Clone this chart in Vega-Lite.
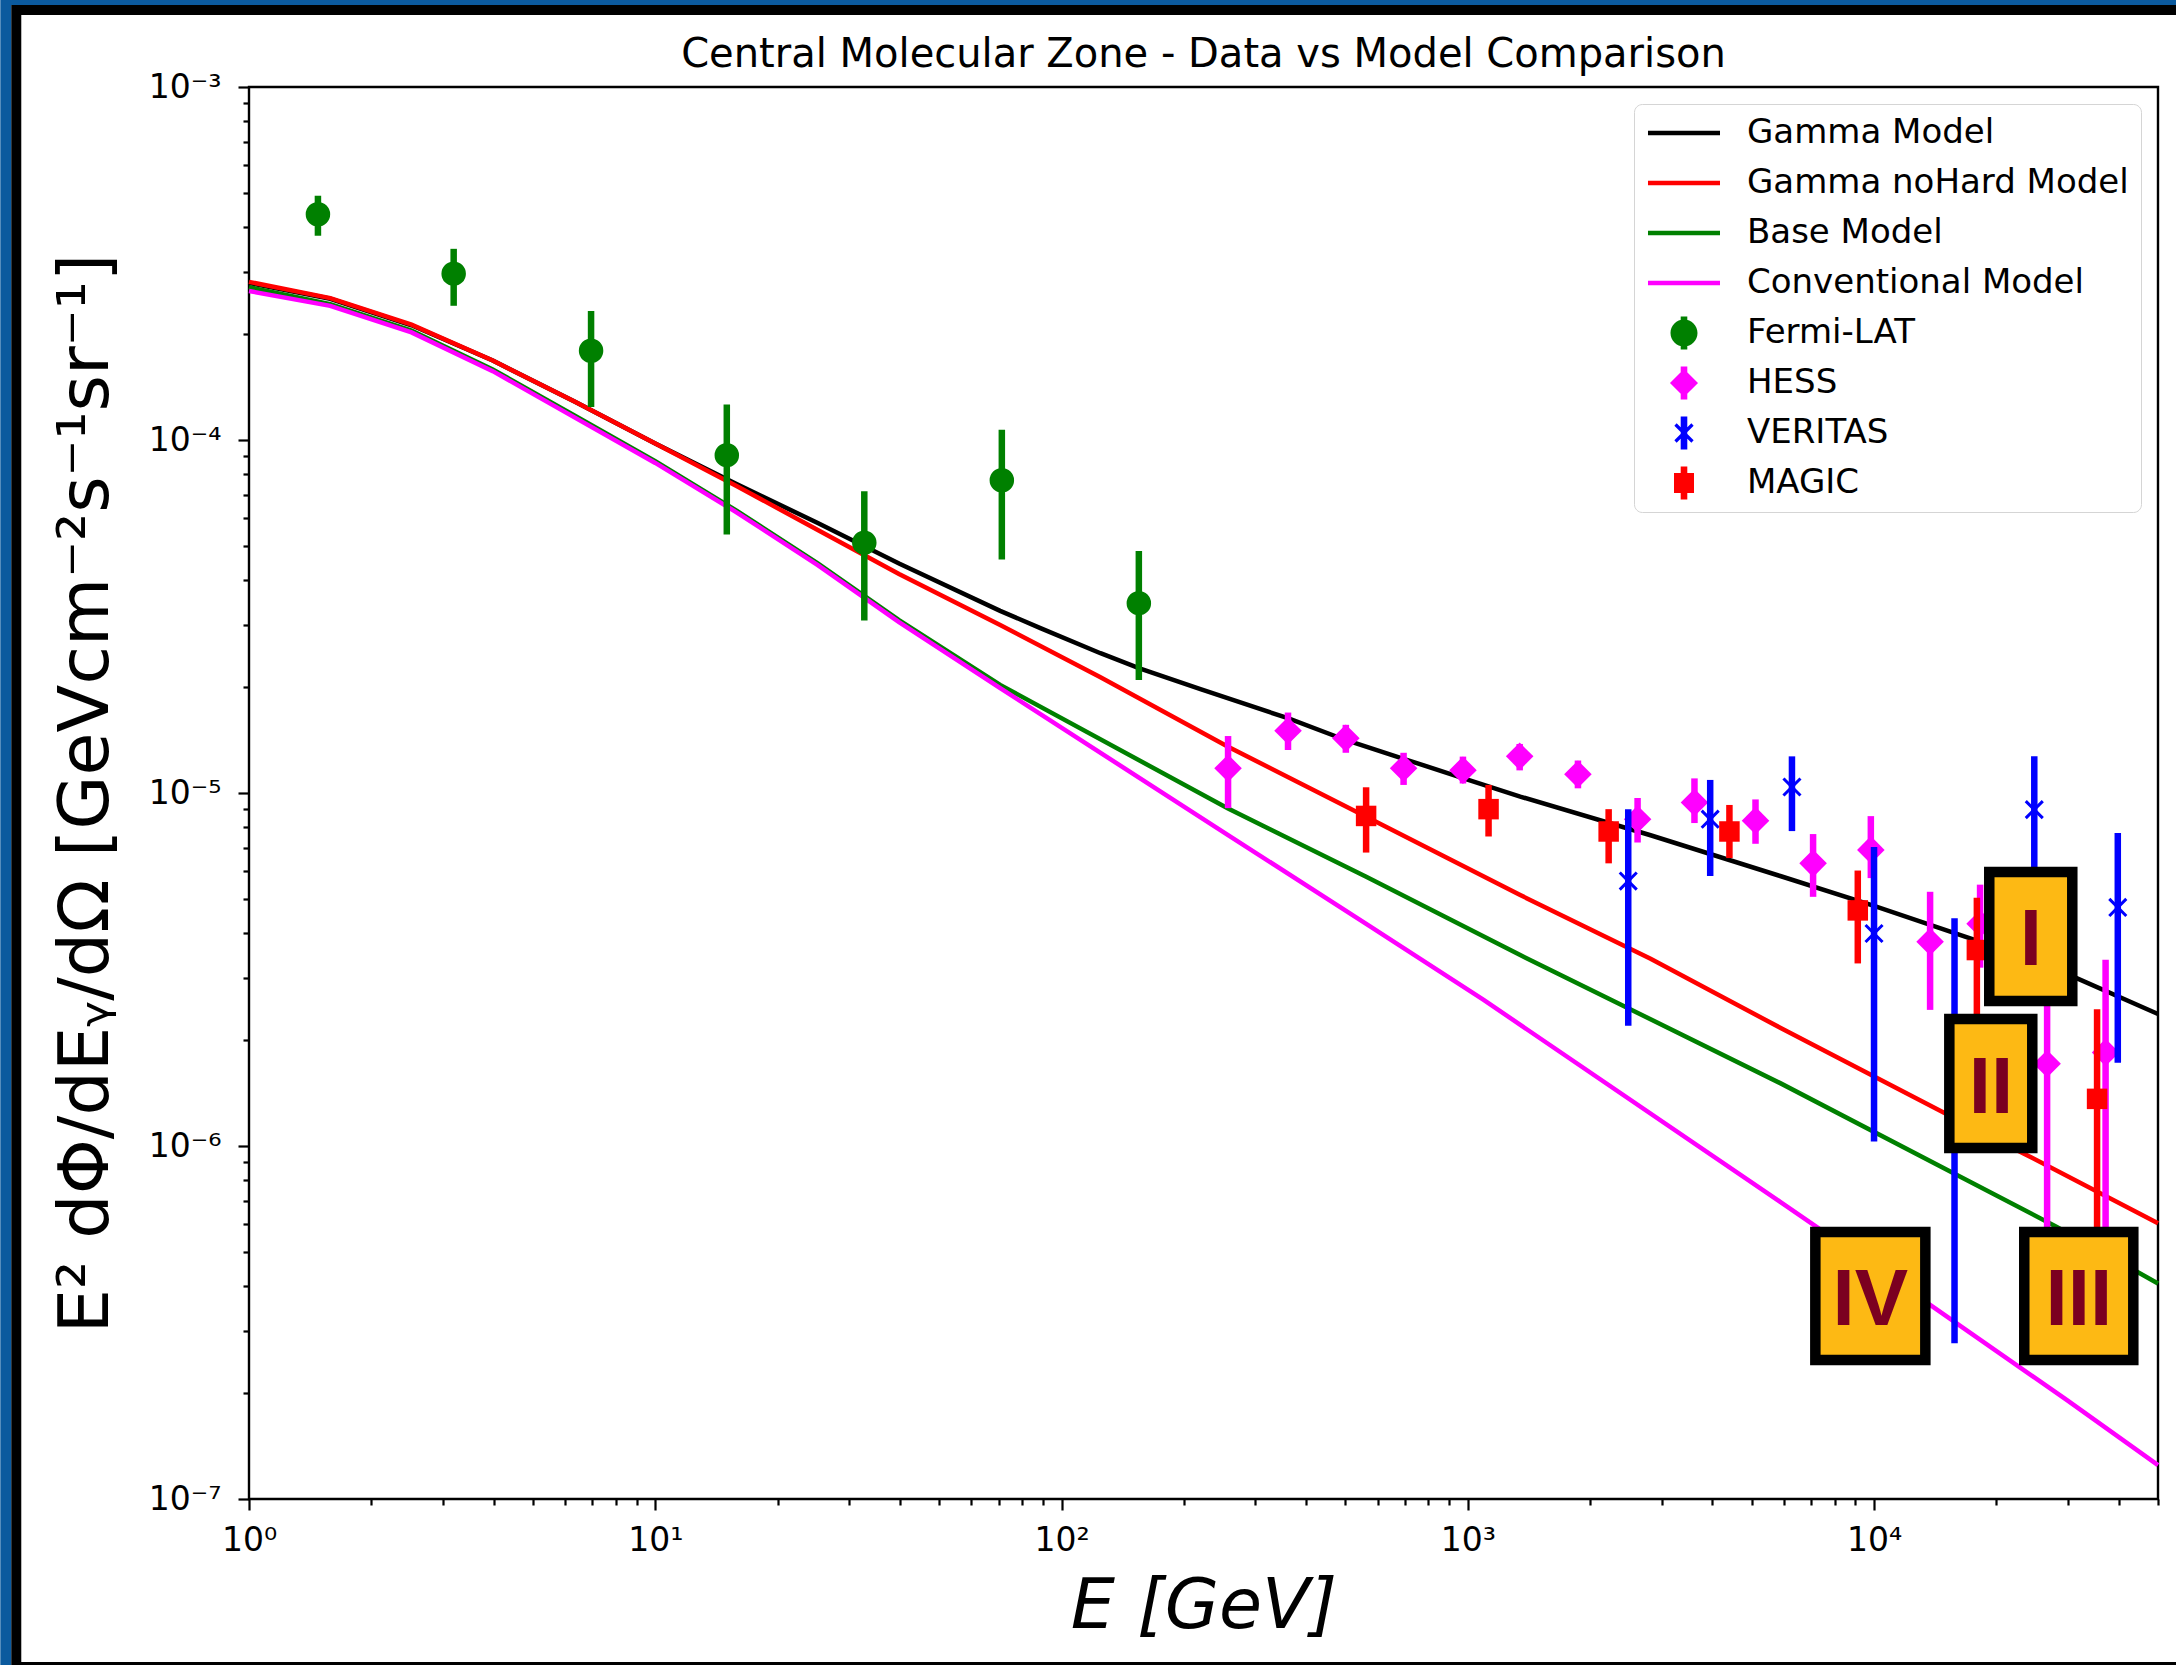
{
  "$schema": "https://vega.github.io/schema/vega-lite/v6.json",
  "width": 1909,
  "height": 1412,
  "autosize": {"type": "none"},
  "padding": {"left": 249, "top": 87, "right": 18, "bottom": 166},
  "background": "white",
  "title": {
    "text": "Central Molecular Zone - Data vs Model Comparison",
    "font": "DejaVu Sans",
    "fontSize": 40,
    "fontWeight": "normal",
    "color": "black",
    "anchor": "middle",
    "frame": "group",
    "baseline": "alphabetic",
    "offset": 21,
    "dy": 134
  },
  "config": {
    "view": {"stroke": "black", "strokeWidth": 2.4, "fill": "white"},
    "axis": {
      "domain": false,
      "grid": false,
      "labelFont": "DejaVu Sans",
      "labelFontSize": 33,
      "labelColor": "black",
      "tickColor": "black",
      "tickWidth": 2.2,
      "titleFont": "DejaVu Sans",
      "titleFontSize": 70,
      "titleColor": "black",
      "titleFontWeight": "normal"
    }
  },
  "datasets": {
    "models": [
      {"model": "Gamma Model", "E": 1, "F": 2.786e-4},
      {"model": "Gamma Model", "E": 1.585, "F": 2.512e-4},
      {"model": "Gamma Model", "E": 2.512, "F": 2.113e-4},
      {"model": "Gamma Model", "E": 3.981, "F": 1.679e-4},
      {"model": "Gamma Model", "E": 6.31, "F": 1.288e-4},
      {"model": "Gamma Model", "E": 10, "F": 9.77e-5},
      {"model": "Gamma Model", "E": 15.85, "F": 7.5e-5},
      {"model": "Gamma Model", "E": 25.12, "F": 5.82e-5},
      {"model": "Gamma Model", "E": 39.81, "F": 4.47e-5},
      {"model": "Gamma Model", "E": 70.63, "F": 3.281e-5},
      {"model": "Gamma Model", "E": 88.72, "F": 2.931e-5},
      {"model": "Gamma Model", "E": 124.7, "F": 2.489e-5},
      {"model": "Gamma Model", "E": 155.6, "F": 2.254e-5},
      {"model": "Gamma Model", "E": 219.8, "F": 1.968e-5},
      {"model": "Gamma Model", "E": 360.6, "F": 1.629e-5},
      {"model": "Gamma Model", "E": 500, "F": 1.413e-5},
      {"model": "Gamma Model", "E": 695, "F": 1.25e-5},
      {"model": "Gamma Model", "E": 968.3, "F": 1.104e-5},
      {"model": "Gamma Model", "E": 1346, "F": 9.77e-6},
      {"model": "Gamma Model", "E": 2818, "F": 7.59e-6},
      {"model": "Gamma Model", "E": 5875, "F": 5.82e-6},
      {"model": "Gamma Model", "E": 10000, "F": 4.79e-6},
      {"model": "Gamma Model", "E": 17910, "F": 3.82e-6},
      {"model": "Gamma Model", "E": 31620, "F": 2.985e-6},
      {"model": "Gamma Model", "E": 50000, "F": 2.366e-6},

      {"model": "Gamma noHard Model", "E": 1, "F": 2.805e-4},
      {"model": "Gamma noHard Model", "E": 1.585, "F": 2.523e-4},
      {"model": "Gamma noHard Model", "E": 2.512, "F": 2.123e-4},
      {"model": "Gamma noHard Model", "E": 3.981, "F": 1.679e-4},
      {"model": "Gamma noHard Model", "E": 6.31, "F": 1.288e-4},
      {"model": "Gamma noHard Model", "E": 10, "F": 9.77e-5},
      {"model": "Gamma noHard Model", "E": 15.85, "F": 7.41e-5},
      {"model": "Gamma noHard Model", "E": 25.12, "F": 5.56e-5},
      {"model": "Gamma noHard Model", "E": 39.81, "F": 4.17e-5},
      {"model": "Gamma noHard Model", "E": 70.63, "F": 2.992e-5},
      {"model": "Gamma noHard Model", "E": 124.7, "F": 2.128e-5},
      {"model": "Gamma noHard Model", "E": 257, "F": 1.352e-5},
      {"model": "Gamma noHard Model", "E": 562.3, "F": 8.57e-6},
      {"model": "Gamma noHard Model", "E": 1346, "F": 5.14e-6},
      {"model": "Gamma noHard Model", "E": 2818, "F": 3.39e-6},
      {"model": "Gamma noHard Model", "E": 5875, "F": 2.163e-6},
      {"model": "Gamma noHard Model", "E": 14830, "F": 1.245e-6},
      {"model": "Gamma noHard Model", "E": 23330, "F": 9.53e-7},
      {"model": "Gamma noHard Model", "E": 50000, "F": 6.04e-7},

      {"model": "Base Model", "E": 1, "F": 2.71e-4},
      {"model": "Base Model", "E": 1.585, "F": 2.427e-4},
      {"model": "Base Model", "E": 2.512, "F": 2.042e-4},
      {"model": "Base Model", "E": 3.981, "F": 1.585e-4},
      {"model": "Base Model", "E": 6.31, "F": 1.175e-4},
      {"model": "Base Model", "E": 10, "F": 8.71e-5},
      {"model": "Base Model", "E": 15.85, "F": 6.31e-5},
      {"model": "Base Model", "E": 25.12, "F": 4.47e-5},
      {"model": "Base Model", "E": 39.81, "F": 3.09e-5},
      {"model": "Base Model", "E": 70.63, "F": 2.023e-5},
      {"model": "Base Model", "E": 257, "F": 9.04e-6},
      {"model": "Base Model", "E": 562.3, "F": 5.79e-6},
      {"model": "Base Model", "E": 1346, "F": 3.475e-6},
      {"model": "Base Model", "E": 5875, "F": 1.507e-6},
      {"model": "Base Model", "E": 16000, "F": 8.28e-7},
      {"model": "Base Model", "E": 28180, "F": 5.9e-7},
      {"model": "Base Model", "E": 50000, "F": 4.08e-7},

      {"model": "Conventional Model", "E": 1, "F": 2.642e-4},
      {"model": "Conventional Model", "E": 1.585, "F": 2.399e-4},
      {"model": "Conventional Model", "E": 2.512, "F": 2.018e-4},
      {"model": "Conventional Model", "E": 3.981, "F": 1.567e-4},
      {"model": "Conventional Model", "E": 6.31, "F": 1.161e-4},
      {"model": "Conventional Model", "E": 10, "F": 8.61e-5},
      {"model": "Conventional Model", "E": 15.85, "F": 6.24e-5},
      {"model": "Conventional Model", "E": 25.12, "F": 4.42e-5},
      {"model": "Conventional Model", "E": 39.81, "F": 3.05e-5},
      {"model": "Conventional Model", "E": 70.63, "F": 1.982e-5},
      {"model": "Conventional Model", "E": 257, "F": 7.6e-6},
      {"model": "Conventional Model", "E": 562.3, "F": 4.26e-6},
      {"model": "Conventional Model", "E": 1094, "F": 2.594e-6},
      {"model": "Conventional Model", "E": 5875, "F": 6.95e-7},
      {"model": "Conventional Model", "E": 13770, "F": 3.54e-7},
      {"model": "Conventional Model", "E": 29850, "F": 1.905e-7},
      {"model": "Conventional Model", "E": 50000, "F": 1.247e-7}
    ],
    "points": [
      {"inst": "Fermi-LAT", "E": 1.478, "F": 4.36e-4, "lo": 3.79e-4, "hi": 4.92e-4},
      {"inst": "Fermi-LAT", "E": 3.19, "F": 2.96e-4, "lo": 2.4e-4, "hi": 3.48e-4},
      {"inst": "Fermi-LAT", "E": 6.95, "F": 1.79e-4, "lo": 1.24e-4, "hi": 2.32e-4},
      {"inst": "Fermi-LAT", "E": 15.0, "F": 9.06e-5, "lo": 5.4e-5, "hi": 1.26e-4},
      {"inst": "Fermi-LAT", "E": 32.7, "F": 5.12e-5, "lo": 3.08e-5, "hi": 7.16e-5},
      {"inst": "Fermi-LAT", "E": 71.3, "F": 7.69e-5, "lo": 4.59e-5, "hi": 1.07e-4},
      {"inst": "Fermi-LAT", "E": 155, "F": 3.45e-5, "lo": 2.09e-5, "hi": 4.85e-5},

      {"inst": "HESS", "E": 257, "F": 1.175e-5, "lo": 9.06e-6, "hi": 1.45e-5},
      {"inst": "HESS", "E": 361, "F": 1.5e-5, "lo": 1.324e-5, "hi": 1.69e-5},
      {"inst": "HESS", "E": 501, "F": 1.43e-5, "lo": 1.3e-5, "hi": 1.56e-5},
      {"inst": "HESS", "E": 695, "F": 1.175e-5, "lo": 1.054e-5, "hi": 1.3e-5},
      {"inst": "HESS", "E": 973, "F": 1.16e-5, "lo": 1.064e-5, "hi": 1.268e-5},
      {"inst": "HESS", "E": 1342, "F": 1.27e-5, "lo": 1.159e-5, "hi": 1.377e-5},
      {"inst": "HESS", "E": 1867, "F": 1.13e-5, "lo": 1.031e-5, "hi": 1.236e-5},
      {"inst": "HESS", "E": 2618, "F": 8.43e-6, "lo": 7.24e-6, "hi": 9.68e-6},
      {"inst": "HESS", "E": 3614, "F": 9.4e-6, "lo": 8.22e-6, "hi": 1.1e-5},
      {"inst": "HESS", "E": 5108, "F": 8.35e-6, "lo": 7.18e-6, "hi": 9.59e-6},
      {"inst": "HESS", "E": 7079, "F": 6.32e-6, "lo": 5.08e-6, "hi": 7.65e-6},
      {"inst": "HESS", "E": 9820, "F": 6.9e-6, "lo": 5.74e-6, "hi": 8.6e-6},
      {"inst": "HESS", "E": 13740, "F": 3.79e-6, "lo": 2.43e-6, "hi": 5.25e-6},
      {"inst": "HESS", "E": 18240, "F": 4.26e-6, "lo": 3.2e-6, "hi": 5.5e-6},
      {"inst": "HESS", "E": 26670, "F": 1.71e-6, "lo": 4.5e-7, "hi": 3.3e-6},
      {"inst": "HESS", "E": 37150, "F": 1.84e-6, "lo": 4.0e-7, "hi": 3.37e-6},

      {"inst": "VERITAS", "E": 2483, "F": 5.63e-6, "lo": 2.19e-6, "hi": 9.0e-6},
      {"inst": "VERITAS", "E": 3951, "F": 8.43e-6, "lo": 5.82e-6, "hi": 1.089e-5},
      {"inst": "VERITAS", "E": 6280, "F": 1.04e-5, "lo": 7.8e-6, "hi": 1.27e-5},
      {"inst": "VERITAS", "E": 10000, "F": 4.0e-6, "lo": 1.03e-6, "hi": 7.03e-6},
      {"inst": "VERITAS", "E": 15780, "F": 1.1e-6, "lo": 2.76e-7, "hi": 4.42e-6},
      {"inst": "VERITAS", "E": 24800, "F": 8.97e-6, "lo": 3.2e-6, "hi": 1.27e-5},
      {"inst": "VERITAS", "E": 39810, "F": 4.74e-6, "lo": 1.72e-6, "hi": 7.7e-6},

      {"inst": "MAGIC", "E": 562, "F": 8.61e-6, "lo": 6.78e-6, "hi": 1.038e-5},
      {"inst": "MAGIC", "E": 1125, "F": 9.0e-6, "lo": 7.53e-6, "hi": 1.054e-5},
      {"inst": "MAGIC", "E": 2222, "F": 7.78e-6, "lo": 6.32e-6, "hi": 9.0e-6},
      {"inst": "MAGIC", "E": 4406, "F": 7.78e-6, "lo": 6.54e-6, "hi": 9.25e-6},
      {"inst": "MAGIC", "E": 9120, "F": 4.65e-6, "lo": 3.29e-6, "hi": 6.03e-6},
      {"inst": "MAGIC", "E": 17910, "F": 3.59e-6, "lo": 2.0e-6, "hi": 5.05e-6},
      {"inst": "MAGIC", "E": 35400, "F": 1.36e-6, "lo": 4.5e-7, "hi": 2.44e-6}
    ],
    "boxes": [
      {"label": "I", "x1": 19215, "x2": 30760, "y1": 5.973e-6, "y2": 2.575e-6, "xc": 24320, "yc": 3.922e-6},
      {"label": "II", "x1": 15322, "x2": 24520, "y1": 2.29e-6, "y2": 9.87e-7, "xc": 19390, "yc": 1.503e-6},
      {"label": "IV", "x1": 7170, "x2": 13375, "y1": 5.706e-7, "y2": 2.476e-7, "xc": 9792, "yc": 3.759e-7},
      {"label": "III", "x1": 23430, "x2": 43470, "y1": 5.706e-7, "y2": 2.476e-7, "xc": 31920, "yc": 3.759e-7}
    ]
  },
  "layer": [
    {
      "data": {"values": [{}]},
      "mark": {"type": "rect", "filled": false, "stroke": "#0b5a9e", "strokeWidth": 11, "clip": false},
      "encoding": {
        "x": {"datum": 0.252, "type": "quantitative", "scale": {"type": "log", "domain": [1, 50000], "nice": false},
          "axis": {
            "title": "E [GeV]",
            "titleFontStyle": "italic",
            "titlePadding": 15,
            "values": [1,2,3,4,5,6,7,8,9,10,20,30,40,50,60,70,80,90,100,200,300,400,500,600,700,800,900,1000,2000,3000,4000,5000,6000,7000,8000,9000,10000,20000,30000,40000,50000],
            "labelExpr": "abs(log(datum.value)/LN10 - round(log(datum.value)/LN10)) < 0.001 ? '10' + ['⁰','¹','²','³','⁴','⁵'][round(log(datum.value)/LN10)] : ''",
            "labelOverlap": false,
            "labelFlush": false,
            "labelPadding": 14,
            "tickSize": {"condition": {"test": "abs(log(datum.value)/LN10 - round(log(datum.value)/LN10)) > 0.001", "value": 6}, "value": 11}
          }
        },
        "x2": {"datum": 63540},
        "y": {"datum": 1.77e-3, "type": "quantitative", "scale": {"type": "log", "domain": [1e-7, 1e-3], "nice": false},
          "axis": {
            "title": "E² dΦ/dEᵧ/dΩ [GeVcm⁻²s⁻¹sr⁻¹]",
            "titlePadding": 26,
            "values": [1e-7,2e-7,3e-7,4e-7,5e-7,6e-7,7e-7,8e-7,9e-7,1e-6,2e-6,3e-6,4e-6,5e-6,6e-6,7e-6,8e-6,9e-6,1e-5,2e-5,3e-5,4e-5,5e-5,6e-5,7e-5,8e-5,9e-5,1e-4,2e-4,3e-4,4e-4,5e-4,6e-4,7e-4,8e-4,9e-4,1e-3],
            "labelExpr": "abs(log(datum.value)/LN10 - round(log(datum.value)/LN10)) < 0.001 ? '10⁻' + ['⁰','¹','²','³','⁴','⁵','⁶','⁷','⁸'][-round(log(datum.value)/LN10)] : ''",
            "labelOverlap": false,
            "labelFlush": false,
            "labelPadding": 17,
            "tickSize": {"condition": {"test": "abs(log(datum.value)/LN10 - round(log(datum.value)/LN10)) > 0.001", "value": 6}, "value": 11}
          }
        },
        "y2": {"datum": 2.695e-8}
      }
    },
    {
      "data": {"values": [{}]},
      "mark": {"type": "rect", "filled": false, "stroke": "black", "strokeWidth": 10, "clip": false},
      "encoding": {
        "x": {"datum": 0.2674, "type": "quantitative"},
        "x2": {"datum": 63540},
        "y": {"datum": 1.652e-3, "type": "quantitative"},
        "y2": {"datum": 3.342e-8}
      }
    },
    {
      "data": {"name": "models"},
      "mark": {"type": "line", "strokeWidth": 4.5},
      "encoding": {
        "x": {"field": "E", "type": "quantitative"},
        "y": {"field": "F", "type": "quantitative"},
        "color": {
          "field": "model",
          "type": "nominal",
          "scale": {
            "domain": ["Gamma Model", "Gamma noHard Model", "Base Model", "Conventional Model", "Fermi-LAT", "HESS", "VERITAS", "MAGIC"],
            "range": ["#000000", "#ff0000", "#008000", "#ff00ff", "#008000", "#ff00ff", "#0000ff", "#ff0000"]
          },
          "legend": {
            "title": null,
            "orient": "top-right",
            "offset": 17,
            "padding": 12,
            "rowPadding": 16,
            "symbolSize": 1156,
            "symbolOffset": 21,
            "symbolStrokeWidth": 0,
            "labelOffset": 46,
            "labelFont": "DejaVu Sans",
            "labelFontSize": 34,
            "labelColor": "black",
            "labelLimit": 700,
            "strokeColor": "#d5d5d5",
            "cornerRadius": 8,
            "fillColor": "white",
            "encode": {
              "symbols": {
                "update": {
                  "shape": {"signal": "datum.value === 'Fermi-LAT' ? 'M0.794,0A0.794,0.794,0,1,1,-0.794,0A0.794,0.794,0,1,1,0.794,0ZM-0.194,-0.971H0.194V0.971H-0.194Z' : datum.value === 'HESS' ? 'M0,-0.824L0.824,0L0,0.824L-0.824,0ZM-0.194,-0.971H0.194V0.971H-0.194Z' : datum.value === 'VERITAS' ? 'M-0.433,-0.567L0.567,0.433L0.433,0.567L-0.567,-0.433ZM-0.433,0.567L-0.567,0.433L0.433,-0.567L0.567,-0.433ZM-0.194,-0.971H0.194V0.971H-0.194Z' : datum.value === 'MAGIC' ? 'M-0.588,-0.588H0.588V0.588H-0.588ZM-0.194,-0.971H0.194V0.971H-0.194Z' : 'M-2.118,-0.138H2.118V0.138H-2.118Z'"},
                  "fill": {"scale": "color", "field": "value"},
                  "stroke": {"value": "transparent"},
                  "strokeWidth": {"value": 0},
                  "opacity": {"value": 1}
                }
              }
            }
          }
        }
      }
    },
    {
      "data": {"name": "points"},
      "transform": [{"filter": "datum.inst === 'Fermi-LAT'"}],
      "mark": {"type": "rule", "strokeWidth": 6.5},
      "encoding": {
        "x": {"field": "E", "type": "quantitative"},
        "y": {"field": "lo", "type": "quantitative"},
        "y2": {"field": "hi"},
        "color": {"field": "inst", "type": "nominal"}
      }
    },
    {
      "data": {"name": "points"},
      "transform": [{"filter": "datum.inst === 'Fermi-LAT'"}],
      "mark": {"type": "point", "shape": "circle", "filled": true, "size": 600, "opacity": 1},
      "encoding": {
        "x": {"field": "E", "type": "quantitative"},
        "y": {"field": "F", "type": "quantitative"},
        "color": {"field": "inst", "type": "nominal"}
      }
    },
    {
      "data": {"name": "points"},
      "transform": [{"filter": "datum.inst === 'HESS'"}],
      "mark": {"type": "rule", "strokeWidth": 6.5},
      "encoding": {
        "x": {"field": "E", "type": "quantitative"},
        "y": {"field": "lo", "type": "quantitative"},
        "y2": {"field": "hi"},
        "color": {"field": "inst", "type": "nominal"}
      }
    },
    {
      "data": {"name": "points"},
      "transform": [{"filter": "datum.inst === 'HESS'"}],
      "mark": {"type": "point", "shape": "diamond", "filled": true, "size": 760, "opacity": 1},
      "encoding": {
        "x": {"field": "E", "type": "quantitative"},
        "y": {"field": "F", "type": "quantitative"},
        "color": {"field": "inst", "type": "nominal"}
      }
    },
    {
      "data": {"name": "points"},
      "transform": [{"filter": "datum.inst === 'VERITAS'"}],
      "mark": {"type": "rule", "strokeWidth": 6.5},
      "encoding": {
        "x": {"field": "E", "type": "quantitative"},
        "y": {"field": "lo", "type": "quantitative"},
        "y2": {"field": "hi"},
        "color": {"field": "inst", "type": "nominal"}
      }
    },
    {
      "data": {"name": "points"},
      "transform": [{"filter": "datum.inst === 'VERITAS'"}],
      "mark": {"type": "point", "shape": "M-1,-1L1,1M-1,1L1,-1", "filled": false, "strokeWidth": 3, "size": 290, "opacity": 1},
      "encoding": {
        "x": {"field": "E", "type": "quantitative"},
        "y": {"field": "F", "type": "quantitative"},
        "color": {"field": "inst", "type": "nominal"}
      }
    },
    {
      "data": {"name": "points"},
      "transform": [{"filter": "datum.inst === 'MAGIC'"}],
      "mark": {"type": "rule", "strokeWidth": 6.5},
      "encoding": {
        "x": {"field": "E", "type": "quantitative"},
        "y": {"field": "lo", "type": "quantitative"},
        "y2": {"field": "hi"},
        "color": {"field": "inst", "type": "nominal"}
      }
    },
    {
      "data": {"name": "points"},
      "transform": [{"filter": "datum.inst === 'MAGIC'"}],
      "mark": {"type": "point", "shape": "square", "filled": true, "size": 420, "opacity": 1},
      "encoding": {
        "x": {"field": "E", "type": "quantitative"},
        "y": {"field": "F", "type": "quantitative"},
        "color": {"field": "inst", "type": "nominal"}
      }
    },
    {
      "data": {"name": "boxes"},
      "mark": {"type": "rect", "fill": "#fdb914", "stroke": "black", "strokeWidth": 10.5},
      "encoding": {
        "x": {"field": "x1", "type": "quantitative"},
        "x2": {"field": "x2"},
        "y": {"field": "y1", "type": "quantitative"},
        "y2": {"field": "y2"}
      }
    },
    {
      "data": {"name": "boxes"},
      "mark": {"type": "text", "font": "Liberation Sans", "fontWeight": "bold", "fontSize": 80, "color": "#7b0020", "align": "center", "baseline": "middle", "dy": 5},
      "encoding": {
        "x": {"field": "xc", "type": "quantitative"},
        "y": {"field": "yc", "type": "quantitative"},
        "text": {"field": "label"}
      }
    }
  ]
}
